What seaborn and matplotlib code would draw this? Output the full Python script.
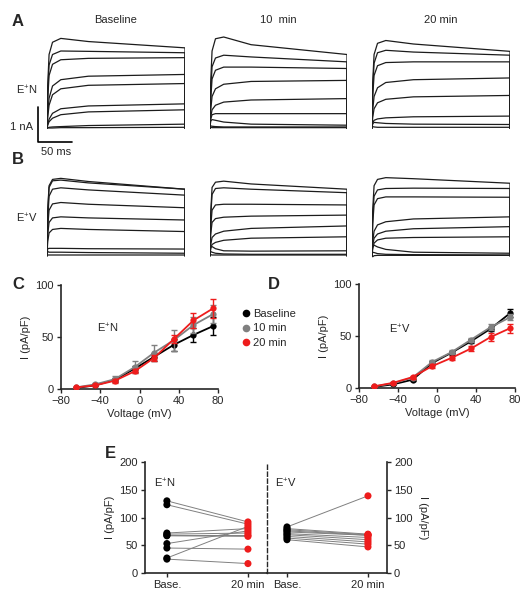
import pandas as pd
import seaborn as sns
import matplotlib.pyplot as plt
from matplotlib.lines import Line2D

sns.set_style('ticks')
plt.rcParams['font.family'] = ['Liberation Sans', 'DejaVu Sans']
plt.rcParams['mathtext.default'] = 'regular'

# ---------------- current traces (nA), sampled at trace_t (ms) ----------------
trace_t = [0, 1, 3, 8, 20, 60, 200]

en_base = [[0, 1.2, 2.1, 2.45, 2.56, 2.47, 2.29],
           [0, 1.0, 1.8, 2.1, 2.2, 2.19, 2.15],
           [0, 0.8, 1.5, 1.82, 1.95, 1.99, 2.01],
           [0, 0.4, 0.85, 1.2, 1.38, 1.48, 1.53],
           [0, 0.3, 0.65, 0.95, 1.12, 1.22, 1.27],
           [0, 0.1, 0.25, 0.42, 0.55, 0.63, 0.69],
           [0, 0.08, 0.18, 0.28, 0.38, 0.46, 0.52],
           [0, 0.01, 0.02, 0.03, 0.04, 0.07, 0.11],
           [0, 0.0, 0.0, 0.0, 0.01, 0.01, 0.02]]
en_10 = [[0, 1.3, 2.2, 2.55, 2.6, 2.38, 2.10],
         [0, 1.0, 1.75, 2.0, 2.08, 2.03, 1.89],
         [0, 0.8, 1.4, 1.65, 1.74, 1.74, 1.70],
         [0, 0.5, 0.9, 1.12, 1.25, 1.33, 1.36],
         [0, 0.3, 0.52, 0.65, 0.74, 0.8, 0.84],
         [0, 0.25, 0.38, 0.41, 0.41, 0.41, 0.41],
         [0, 0.2, 0.24, 0.22, 0.17, 0.11, 0.08],
         [0, 0.06, 0.05, 0.04, 0.03, 0.03, 0.03],
         [0, 0.02, 0.01, 0.01, 0.01, 0.01, 0.01]]
en_20 = [[0, 1.3, 2.1, 2.42, 2.5, 2.4, 2.19],
         [0, 1.1, 1.85, 2.15, 2.22, 2.17, 2.08],
         [0, 0.9, 1.5, 1.78, 1.87, 1.89, 1.89],
         [0, 0.5, 0.9, 1.15, 1.3, 1.38, 1.43],
         [0, 0.3, 0.55, 0.72, 0.82, 0.89, 0.93],
         [0, 0.15, 0.22, 0.26, 0.29, 0.32, 0.34],
         [0, 0.12, 0.16, 0.15, 0.13, 0.11, 0.10],
         [0, 0.04, 0.03, 0.02, 0.02, 0.02, 0.02]]
ev_base = [[0, 1.3, 2.0, 2.18, 2.21, 2.12, 1.90],
           [0, 1.2, 1.95, 2.14, 2.16, 2.08, 1.90],
           [0, 1.0, 1.7, 1.9, 1.94, 1.88, 1.73],
           [0, 0.8, 1.3, 1.48, 1.52, 1.47, 1.37],
           [0, 0.6, 0.95, 1.08, 1.11, 1.08, 1.02],
           [0, 0.4, 0.65, 0.75, 0.78, 0.75, 0.69],
           [0, 0.2, 0.21, 0.21, 0.21, 0.2, 0.19],
           [0, 0.12, 0.10, 0.10, 0.10, 0.09, 0.07],
           [0, 0.02, 0.02, 0.02, 0.02, 0.02, 0.02]]
ev_10 = [[0, 1.2, 1.95, 2.1, 2.13, 2.05, 1.90],
         [0, 1.1, 1.75, 1.92, 1.94, 1.9, 1.80],
         [0, 0.8, 1.3, 1.45, 1.47, 1.47, 1.45],
         [0, 0.6, 0.95, 1.06, 1.10, 1.13, 1.16],
         [0, 0.3, 0.52, 0.62, 0.7, 0.78, 0.85],
         [0, 0.2, 0.32, 0.38, 0.44, 0.5, 0.54],
         [0, 0.25, 0.26, 0.2, 0.14, 0.13, 0.14],
         [0, 0.12, 0.1, 0.07, 0.05, 0.04, 0.04],
         [0, 0.03, 0.02, 0.02, 0.02, 0.02, 0.02]]
ev_20 = [[0, 1.3, 2.0, 2.18, 2.23, 2.2, 2.07],
         [0, 1.1, 1.7, 1.88, 1.92, 1.93, 1.92],
         [0, 0.9, 1.45, 1.63, 1.68, 1.68, 1.67],
         [0, 0.4, 0.7, 0.88, 0.97, 1.05, 1.11],
         [0, 0.3, 0.5, 0.62, 0.7, 0.77, 0.83],
         [0, 0.2, 0.36, 0.45, 0.5, 0.52, 0.54],
         [0, 0.25, 0.3, 0.25, 0.18, 0.1, 0.07],
         [0, 0.1, 0.09, 0.06, 0.04, 0.03, 0.02],
         [0, -0.03, 0.0, 0.01, 0.01, 0.01, 0.01]]

conditions = ['Baseline', '10 min', '20 min']
titles = ['Baseline', '10  min', '20 min']

# ---------------- I-V curves (pA/pF) ----------------
volt = [-65, -45, -25, -5, 15, 35, 55, 75]
c_base = [1.0, 3.5, 9, 19.5, 31, 42.5, 52, 60.5]
c_base_err = [0.5, 1, 2, 3, 4, 6, 7, 9]
c_10 = [1.5, 4.5, 9.5, 21, 35, 47, 61.5, 72]
c_10_err = [0.5, 1.5, 3, 6, 7, 10, 8, 9]
c_20 = [1.5, 3.5, 8, 17, 30, 48, 66, 77.5]
c_20_err = [0.5, 1, 2, 2, 3, 4, 7, 9]

d_base = [1, 3.5, 8, 24, 34, 45, 57, 72]
d_base_err = [0.5, 1, 1, 2, 2, 2, 2, 4]
d_10 = [1.5, 4.5, 10, 25, 34.5, 46.5, 58.5, 68]
d_10_err = [0.5, 1, 1, 2, 2, 2, 3, 3]
d_20 = [1.5, 5, 10.5, 21, 29, 38, 49, 57.5]
d_20_err = [0.5, 1, 1.5, 2, 2, 2, 4, 4.5]

colors = {'Baseline': 'black', '10 min': 'gray', '20 min': '#ee1c1c'}

# ---------------- paired cells (pA/pF) ----------------
en_pair_base = [130, 123, 72, 70, 68, 67, 53, 45, 27, 25]
en_pair_20 = [92, 88, 80, 72, 68, 66, 76, 43, 84, 17]
ev_pair_base = [83, 80, 78, 76, 74, 71, 69, 66, 63, 60]
ev_pair_20 = [139, 70, 69, 68, 68, 64, 60, 56, 52, 47]

W, H = 532, 600
fig = plt.figure(figsize=(W / 100, H / 100), dpi=100)


def px_axes(x0, y0, x1, y1):
    return fig.add_axes([x0 / W, 1 - y1 / H, (x1 - x0) / W, (y1 - y0) / H])


# ---- panels A / B: traces ----
trace_sets = {('A', 0): en_base, ('A', 1): en_10, ('A', 2): en_20,
              ('B', 0): ev_base, ('B', 1): ev_10, ('B', 2): ev_20}
col_x = [(47, 185), (210, 347), (372, 510)]
row_zero = {'A': 128, 'B': 255.7}
nA_px = 35
trace_axes = {}
for (row, ci), traces in trace_sets.items():
    rows = []
    for k, tr in enumerate(traces):
        for t, v in zip(trace_t + [trace_t[-1]], tr + [0]):
            rows.append({'k': k, 't': t, 'I': v})
    df = pd.DataFrame(rows)
    x0, x1 = col_x[ci]
    z = row_zero[row]
    ax = px_axes(x0, z - 100, x1, z + 8)
    sns.lineplot(data=df, x='t', y='I', units='k', estimator=None, sort=False,
                 color='#1c1c1c', lw=0.9, ax=ax)
    ax.set_xlim(0, trace_t[-1])
    ax.set_ylim(-8 / nA_px, 100 / nA_px)
    ax.axis('off')
    trace_axes[(row, ci)] = ax

for ci, title in enumerate(titles):
    x0, x1 = col_x[ci]
    fig.text((x0 + x1) / 2 / W, 1 - 20 / H, title, ha='center', va='center', fontsize=8)

# scale bar on Baseline E+N traces
ax = trace_axes[('A', 0)]
ms_per_px = trace_t[-1] / (185 - 47)
sx = -9.3 * ms_per_px
sy = -14 / nA_px
ax.plot([sx, sx, sx + 50], [sy + 1, sy, sy], color='black', lw=1.2, clip_on=False)
fig.text(33 / W, 1 - 127 / H, '1 nA', ha='right', va='center', fontsize=8)
fig.text(56 / W, 1 - 152 / H, '50 ms', ha='center', va='center', fontsize=8)

fig.text(16 / W, 1 - 90 / H, 'E$^{+}$N', ha='left', va='center', fontsize=8)
fig.text(16 / W, 1 - 218 / H, 'E$^{+}$V', ha='left', va='center', fontsize=8)


# ---- panels C / D: I-V ----
def iv_panel(ax, means, errs, label, lx, ly):
    for cond, m, e, zo in zip(conditions, means, errs, [2, 3, 4]):
        d = pd.DataFrame({'V': volt, 'I': m})
        sns.lineplot(data=d, x='V', y='I', color=colors[cond], marker='o', markersize=4.5,
                     markeredgewidth=0, lw=1.3, ax=ax, zorder=zo)
        ax.errorbar(volt, m, yerr=e, fmt='none', ecolor=colors[cond], elinewidth=1,
                    capsize=2, capthick=1, zorder=zo)
    ax.set_xlim(-80, 80)
    ax.set_ylim(0, 100)
    ax.set_xticks([-80, -40, 0, 40, 80])
    ax.set_yticks([0, 50, 100])
    ax.set_xlabel('Voltage (mV)', fontsize=8, labelpad=2)
    ax.set_ylabel('I (pA/pF)', fontsize=8, labelpad=3)
    ax.tick_params(labelsize=8, length=3, width=1, pad=2)
    for s in ['left', 'bottom']:
        ax.spines[s].set_linewidth(1.2)
    sns.despine(ax=ax)
    ax.text(lx, ly, label, transform=ax.transAxes, fontsize=8, va='center')


axC = px_axes(61, 285, 218, 389)
iv_panel(axC, [c_base, c_10, c_20], [c_base_err, c_10_err, c_20_err], 'E$^{+}$N', 0.23, 0.58)
axD = px_axes(359, 284, 515, 388)
iv_panel(axD, [d_base, d_10, d_20], [d_base_err, d_10_err, d_20_err], 'E$^{+}$V', 0.19, 0.56)

handles = [Line2D([], [], ls='', marker='o', markersize=5.5, markeredgewidth=0,
                  color=colors[c]) for c in conditions]
fig.legend(handles, conditions, loc='upper left', bbox_to_anchor=(239 / W, 1 - 309 / H),
           frameon=False, fontsize=8, handletextpad=0.1, labelspacing=0.4,
           handlelength=1.2, borderpad=0, borderaxespad=0)


# ---- panel E: paired cells ----
def pair_panel(ax, base, after):
    rows = []
    for k, (b, a) in enumerate(zip(base, after)):
        rows.append({'pair': k, 'x': 0, 'val': b, 'cond': 'Base.'})
        rows.append({'pair': k, 'x': 1, 'val': a, 'cond': '20 min'})
    df = pd.DataFrame(rows)
    sns.lineplot(data=df, x='x', y='val', units='pair', estimator=None, color='#808080',
                 lw=0.7, ax=ax)
    sns.scatterplot(data=df, x='x', y='val', hue='cond',
                    palette={'Base.': 'black', '20 min': '#ee1c1c'}, s=26, linewidth=0,
                    legend=False, ax=ax, zorder=3, clip_on=False)
    ax.set_ylim(0, 200)
    ax.set_yticks([0, 50, 100, 150, 200])
    ax.set_xticks([0, 1])
    ax.set_xticklabels(['Base.', '20 min'])
    ax.set_xlabel('')
    ax.tick_params(labelsize=8, length=3, width=1, pad=2)
    ax.spines['top'].set_visible(False)
    ax.spines['bottom'].set_linewidth(1.2)


axE1 = px_axes(145, 462, 267, 573)
pair_panel(axE1, en_pair_base, en_pair_20)
axE1.set_xlim(-0.27, 1.235)
axE1.spines['right'].set_visible(False)
axE1.spines['left'].set_linewidth(1.2)
axE1.set_ylabel('I (pA/pF)', fontsize=8, labelpad=3)
axE1.text(0.07, 0.81, 'E$^{+}$N', transform=axE1.transAxes, fontsize=8, va='center')

axE2 = px_axes(267, 462, 387, 573)
pair_panel(axE2, ev_pair_base, ev_pair_20)
axE2.set_xlim(-0.247, 1.235)
axE2.spines['left'].set_linestyle((0, (3, 2)))
axE2.spines['left'].set_linewidth(1)
axE2.spines['right'].set_linewidth(1.2)
axE2.yaxis.tick_right()
axE2.yaxis.set_label_position('right')
axE2.set_ylabel('I (pA/pF)', fontsize=8, rotation=270, labelpad=11)
axE2.text(0.07, 0.81, 'E$^{+}$V', transform=axE2.transAxes, fontsize=8, va='center')

# panel letters
for letter, (x, y) in {'A': (12, 22), 'B': (12, 160), 'C': (12, 284),
                       'D': (268, 284), 'E': (105, 454)}.items():
    fig.text(x / W, 1 - y / H, letter, ha='left', va='center', fontsize=12, fontweight='bold')

fig.savefig('out.png', dpi=100, facecolor='white')
